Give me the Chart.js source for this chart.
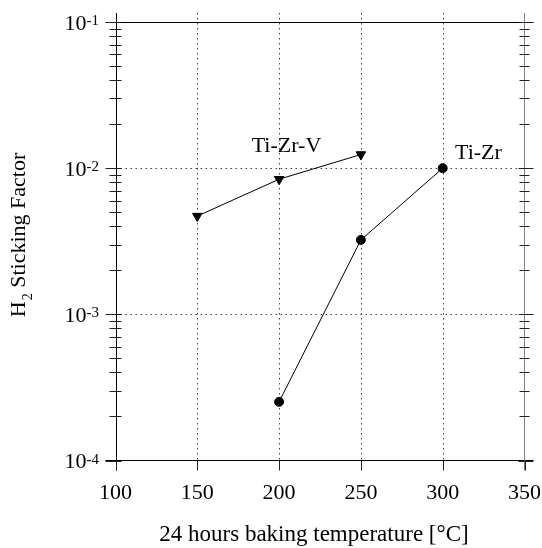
<!DOCTYPE html>
<html><head><meta charset="utf-8">
<style>html,body{margin:0;padding:0;background:#fff}#wrap{width:542px;height:548px}</style>
<script src="https://cdn.jsdelivr.net/npm/chart.js@4.4.0/dist/chart.umd.min.js"></script>
</head><body><div id="wrap"><canvas id="c" width="542" height="548"></canvas></div>
<script>
// ---- data ----
const xTicks = [100, 150, 200, 250, 300, 350];
const xGrid = [150, 200, 250, 300];
const yTicks = [1e-4, 1e-3, 1e-2, 1e-1];
const yExponents = ['-4', '-3', '-2', '-1'];
const yGrid = [1e-3, 1e-2];
const tiZrV_x = [150, 200, 250];
const tiZrV_y = [4.7e-3, 8.4e-3, 1.24e-2];
const tiZr_x = [200, 250, 300];
const tiZr_y = [2.52e-4, 3.23e-3, 1.0e-2];
const seriesLabels = ['Ti-Zr-V', 'Ti-Zr'];
const labelAnchorX = [204.5, 307.5];
const labelAnchorY = [1.293e-2, 1.158e-2];
const xTitle = '24 hours baking temperature [°C]';
const yTitleParts = ['H', '2', ' Sticking Factor'];

const FONT = '"Liberation Serif", "Times New Roman", serif';

const deco = {
  id: 'deco',
  beforeDatasetsDraw(chart) {
    const ctx = chart.ctx, xs = chart.scales.x, ys = chart.scales.y, a = chart.chartArea;
    const L = a.left, R = a.right, T = a.top, B = a.bottom;
    const px = v => Math.round(xs.getPixelForValue(v)) + 0.5;
    const py = v => Math.round(ys.getPixelForValue(v)) + 0.5;
    const lx = Math.round(L) + 0.5, rx = Math.round(R) - 0.5, ty = Math.round(T) + 0.5, by = Math.round(B) - 0.5;
    ctx.save();
    ctx.lineWidth = 1;
    // dotted grid
    ctx.strokeStyle = '#444';
    ctx.setLineDash([1.5, 3.5]);
    ctx.beginPath();
    xGrid.forEach(v => { const x = px(v); ctx.moveTo(x, T - 9); ctx.lineTo(x, B); });
    yGrid.forEach(v => { const y = py(v); ctx.moveTo(L, y); ctx.lineTo(R, y); });
    ctx.stroke();
    ctx.setLineDash([]);
    // frame
    ctx.strokeStyle = '#000';
    ctx.beginPath();
    ctx.moveTo(L - 10, ty); ctx.lineTo(R + 9, ty);
    ctx.moveTo(L - 10, by); ctx.lineTo(R + 9, by);
    ctx.moveTo(lx, T - 9); ctx.lineTo(lx, B + 10);
    ctx.stroke();
    ctx.strokeStyle = '#808080';
    ctx.beginPath();
    ctx.moveTo(rx, T - 9); ctx.lineTo(rx, B + 10);
    ctx.stroke();
    // x major ticks (bottom)
    ctx.strokeStyle = '#222';
    ctx.beginPath();
    xTicks.forEach(v => { const x = px(v); ctx.moveTo(x, B); ctx.lineTo(x, B + 10); });
    ctx.stroke();
    // y major ticks
    ctx.beginPath();
    yTicks.forEach(v => { const y = py(v); ctx.moveTo(L - 10, y); ctx.lineTo(L + 6, y); ctx.moveTo(R - 6, y); ctx.lineTo(R + 9, y); });
    ctx.stroke();
    // y minor ticks
    ctx.beginPath();
    for (let i = 0; i < yTicks.length - 1; i++) {
      for (let m = 2; m <= 9; m++) {
        const y = py(yTicks[i] * m);
        ctx.moveTo(L - 6, y); ctx.lineTo(L + 6, y);
        ctx.moveTo(R - 5, y); ctx.lineTo(R + 5, y);
      }
    }
    ctx.stroke();
    ctx.restore();
  },
  afterDraw(chart) {
    const ctx = chart.ctx, xs = chart.scales.x, ys = chart.scales.y, a = chart.chartArea;
    ctx.save();
    ctx.fillStyle = '#000';
    // y tick labels 10^n
    yTicks.forEach((v, i) => {
      const y = ys.getPixelForValue(v);
      ctx.font = '15px ' + FONT;
      const ew = ctx.measureText(yExponents[i]).width;
      ctx.textAlign = 'left'; ctx.textBaseline = 'alphabetic';
      const right = 99;
      ctx.fillText(yExponents[i], right - ew, y + 3);
      ctx.font = '22px ' + FONT;
      ctx.textAlign = 'right';
      ctx.fillText('10', right - ew, y + 7.5);
    });
    // y title (rotated)
    ctx.save();
    ctx.translate(24.5, 235.5);
    ctx.rotate(-Math.PI / 2);
    ctx.textAlign = 'left'; ctx.textBaseline = 'alphabetic';
    ctx.font = '22px ' + FONT;
    const w0 = ctx.measureText(yTitleParts[0]).width;
    const w2 = ctx.measureText(yTitleParts[2]).width;
    ctx.font = '14px ' + FONT;
    const w1 = ctx.measureText(yTitleParts[1]).width;
    let sx = -(w0 + w1 + w2) / 2;
    ctx.font = '22px ' + FONT;
    ctx.fillText(yTitleParts[0], sx, 0);
    ctx.font = '14px ' + FONT;
    ctx.fillText(yTitleParts[1], sx + w0 + 1, 7);
    ctx.font = '22px ' + FONT;
    ctx.fillText(yTitleParts[2], sx + w0 + w1 + 1, 0);
    ctx.restore();
    // series labels
    ctx.font = '22px ' + FONT;
    ctx.textBaseline = 'alphabetic';
    ctx.textAlign = 'center';
    ctx.fillText(seriesLabels[0], xs.getPixelForValue(labelAnchorX[0]), ys.getPixelForValue(labelAnchorY[0]));
    ctx.textAlign = 'left';
    ctx.fillText(seriesLabels[1], xs.getPixelForValue(labelAnchorX[1]), ys.getPixelForValue(labelAnchorY[1]));
    // x title
    ctx.font = '23px ' + FONT;
    ctx.textAlign = 'center';
    ctx.fillText(xTitle, (a.left + a.right) / 2 - 6, 541);
    ctx.restore();
  }
};

new Chart(document.getElementById('c'), {
  type: 'scatter',
  data: {
    datasets: [
      {
        label: seriesLabels[0],
        data: tiZrV_x.map((x, i) => ({ x, y: tiZrV_y[i] })),
        showLine: true, borderColor: '#000', borderWidth: 1,
        pointStyle: 'triangle', rotation: 180, pointRadius: 5.5,
        pointBackgroundColor: '#000', pointBorderColor: '#000', pointBorderWidth: 1
      },
      {
        label: seriesLabels[1],
        data: tiZr_x.map((x, i) => ({ x, y: tiZr_y[i] })),
        showLine: true, borderColor: '#000', borderWidth: 1,
        pointStyle: 'circle', pointRadius: 4.5,
        pointBackgroundColor: '#000', pointBorderColor: '#000', pointBorderWidth: 1
      }
    ]
  },
  options: {
    responsive: false, animation: false, devicePixelRatio: 1,
    layout: { padding: { top: 22, right: 17.5, left: 0, bottom: 0 } },
    plugins: { legend: { display: false }, tooltip: { enabled: false } },
    scales: {
      x: {
        type: 'linear', min: 100, max: 350,
        afterBuildTicks: s => { s.ticks = xTicks.map(v => ({ value: v })); },
        afterFit: s => { s.height = 87.5; s.paddingLeft = 0; s.paddingRight = 0; },
        grid: { display: false, drawTicks: false }, border: { display: false },
        ticks: { color: '#000', font: { family: FONT, size: 22 }, padding: 20, maxRotation: 0 }
      },
      y: {
        type: 'logarithmic', min: 1e-4, max: 1e-1,
        afterBuildTicks: s => { s.ticks = yTicks.map(v => ({ value: v })); },
        afterFit: s => { s.width = 115.5; s.paddingTop = 0; s.paddingBottom = 0; },
        grid: { display: false, drawTicks: false }, border: { display: false },
        ticks: { display: false }
      }
    }
  },
  plugins: [deco]
});
</script></body></html>
